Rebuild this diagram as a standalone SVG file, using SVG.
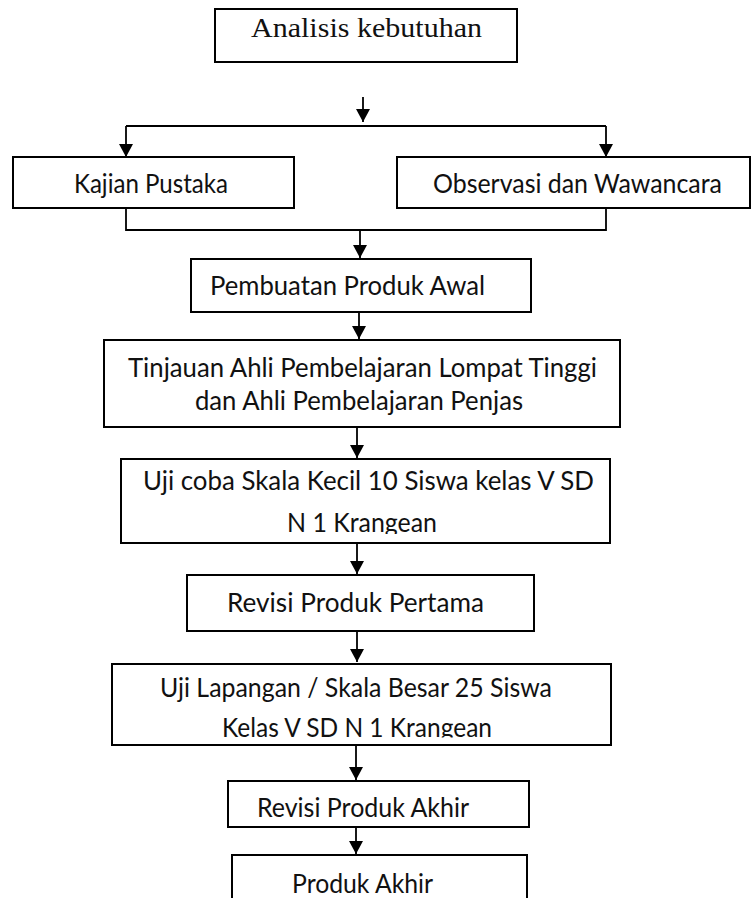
<svg xmlns="http://www.w3.org/2000/svg" width="752" height="898" viewBox="0 0 752 898">
  <defs>
    <marker id="head" markerUnits="userSpaceOnUse" markerWidth="13" markerHeight="14" viewBox="0 0 12 13" refX="12" refY="6.5" orient="auto">
      <path d="M0,0 L12,6.5 L0,13 Z" fill="#000"/>
    </marker>
    <clipPath id="clipUji"><rect x="120" y="459" width="492" height="75"/></clipPath>
    <clipPath id="clipLap"><rect x="111" y="663" width="502" height="74.5"/></clipPath>
  </defs>
  <style>
    rect.box { fill: #fff; stroke: #000; stroke-width: 2; }
    .lbl { font-family: Lato, "Open Sans", "Liberation Sans", sans-serif; font-size: 26.5px; fill: #111; }
    .serif { font-family: "Liberation Serif", "Times New Roman", serif; font-size: 28px; fill: #111; }
    .wire { fill: none; stroke: #000; stroke-width: 1.8; }
    .arrow { fill: none; stroke: #000; stroke-width: 1.8; marker-end: url(#head); }
  </style>

  <rect width="752" height="898" fill="#fff"/>

  <!-- connectors -->
  <g id="connectors">
    <line class="arrow" x1="363" y1="97" x2="363" y2="122"/>
    <path class="wire" d="M126,126 H606"/>
    <line class="arrow" x1="126" y1="126" x2="126" y2="157"/>
    <line class="arrow" x1="606" y1="126" x2="606" y2="157"/>
    <path class="wire" d="M126,208 V230 H606 V208"/>
    <line class="arrow" x1="360" y1="230" x2="360" y2="258"/>
    <line class="arrow" x1="359" y1="312" x2="359" y2="339"/>
    <line class="arrow" x1="357" y1="427" x2="357" y2="458"/>
    <line class="arrow" x1="357" y1="543" x2="357" y2="574"/>
    <line class="arrow" x1="357" y1="631" x2="357" y2="662"/>
    <line class="arrow" x1="356" y1="745" x2="356" y2="780"/>
    <line class="arrow" x1="356" y1="827" x2="356" y2="854"/>
  </g>

  <g id="analisis">
    <rect class="box" x="215" y="9" width="302" height="53"/>
    <text class="serif" x="251" y="37" textLength="231" lengthAdjust="spacingAndGlyphs">Analisis kebutuhan</text>
  </g>

  <g id="kajian">
    <rect class="box" x="13" y="157" width="281" height="51"/>
    <text class="lbl" x="74" y="193" textLength="154" lengthAdjust="spacingAndGlyphs">Kajian Pustaka</text>
  </g>

  <g id="observasi">
    <rect class="box" x="397" y="157" width="353" height="51"/>
    <text class="lbl" x="433" y="193" textLength="289" lengthAdjust="spacingAndGlyphs">Observasi dan Wawancara</text>
  </g>

  <g id="pembuatan">
    <rect class="box" x="191" y="259" width="340" height="53"/>
    <text class="lbl" x="210" y="295" textLength="275" lengthAdjust="spacingAndGlyphs">Pembuatan Produk Awal</text>
  </g>

  <g id="tinjauan">
    <rect class="box" x="104" y="340" width="516" height="87"/>
    <text class="lbl" x="128" y="377" textLength="469" lengthAdjust="spacingAndGlyphs">Tinjauan Ahli Pembelajaran Lompat Tinggi</text>
    <text class="lbl" x="195" y="410" textLength="328" lengthAdjust="spacingAndGlyphs">dan Ahli Pembelajaran Penjas</text>
  </g>

  <g id="uji-coba">
    <rect class="box" x="121" y="459" width="489" height="84"/>
    <g clip-path="url(#clipUji)">
      <text class="lbl" x="143" y="490" textLength="451" lengthAdjust="spacingAndGlyphs">Uji coba Skala Kecil 10 Siswa kelas V SD</text>
      <text class="lbl" x="287" y="532" textLength="150" lengthAdjust="spacingAndGlyphs">N 1 Krangean</text>
    </g>
  </g>

  <g id="revisi-pertama">
    <rect class="box" x="187" y="575" width="347" height="56"/>
    <text class="lbl" x="227" y="612" textLength="257" lengthAdjust="spacingAndGlyphs">Revisi Produk Pertama</text>
  </g>

  <g id="uji-lapangan">
    <rect class="box" x="112" y="664" width="499" height="81"/>
    <g clip-path="url(#clipLap)">
      <text class="lbl" x="160" y="697" textLength="392" lengthAdjust="spacingAndGlyphs">Uji Lapangan / Skala Besar 25 Siswa</text>
      <text class="lbl" x="222" y="737" textLength="270" lengthAdjust="spacingAndGlyphs">Kelas V SD N 1 Krangean</text>
    </g>
  </g>

  <g id="revisi-akhir">
    <rect class="box" x="228" y="781" width="301" height="46"/>
    <text class="lbl" x="257" y="817" textLength="212" lengthAdjust="spacingAndGlyphs">Revisi Produk Akhir</text>
  </g>

  <g id="produk-akhir">
    <rect class="box" x="232" y="855" width="295" height="60"/>
    <text class="lbl" x="292" y="893" textLength="141" lengthAdjust="spacingAndGlyphs">Produk Akhir</text>
  </g>
</svg>
